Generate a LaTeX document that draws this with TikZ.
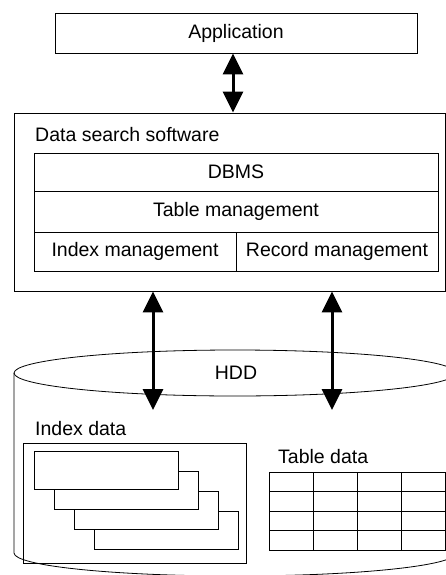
\documentclass[tikz,border=0pt]{standalone}
\usepackage{fontspec}
\setmainfont{Liberation Sans}
\usetikzlibrary{arrows.meta,calc}
\begin{document}
\begin{tikzpicture}[x=1pt,y=-1pt,
  every node/.style={font=\fontsize{19.5}{23}\selectfont, inner sep=0pt},
  box/.style={draw, line width=0.8pt, rectangle},
  thin/.style={line width=0.8pt},
  dbl/.style={line width=3pt, {Triangle[width=20pt,length=21pt]}-{Triangle[width=20pt,length=21pt]}},
  card/.style={draw, line width=0.8pt, fill=white, minimum width=144pt, minimum height=38pt},
  ]
\useasboundingbox (0,0) rectangle (446,575);
\clip (0,0) rectangle (446,575);
% application
\node[box, minimum width=362pt, minimum height=40pt] (app) at (236,33) {Application};
% data search software
\node[box, minimum width=431pt, minimum height=178pt] (sw) at (229.5,202) {};
\node[anchor=west] (swl) at (35,135) {Data search software};
\node[box, minimum width=404pt, minimum height=38pt] (dbms) at (236,172) {DBMS};
\node[box, minimum width=404pt, minimum height=41pt] (tm) at (236,211.5) {Table management};
\node[box, minimum width=202pt, minimum height=39pt] (im) at (135,251.5) {Index management};
\node[box, minimum width=202pt, minimum height=39pt] (rm) at (337,251.5) {Record management};
% HDD cylinder
\draw[thin] (14,373) -- (14,553) arc[start angle=180, end angle=0, x radius=221, y radius=23];
\draw[thin] (235,373) ellipse [x radius=221, y radius=23];
\node (hdd) at (236,373) {HDD};
% arrows
\coordinate (x1) at (233,0);
\draw[dbl] (app.south -| x1) -- (sw.north -| x1);
\coordinate (e1) at (153,410);
\coordinate (e2) at (332,410);
\draw[dbl] (sw.south -| e1) -- (e1);
\draw[dbl] (sw.south -| e2) -- (e2);
% index data
\node[anchor=west] (idl) at (35,429) {Index data};
\node[box, minimum width=223pt, minimum height=120pt] (ib) at (134.5,503) {};
\node[card] (c4) at (166,530) {};
\node[card] (c3) at (146,510) {};
\node[card] (c2) at (126,490) {};
\node[card] (c1) at (106,470) {};
% table data
\node[anchor=west] (tdl) at (278,457) {Table data};
\node[box, minimum width=176pt, minimum height=78pt] (tbl) at (357,511) {};
\foreach \i in {1,2,3} \draw[thin] ({269+44*\i},472) -- ({269+44*\i},550);
\foreach \j in {1,2,3} \draw[thin] (269,{472+19.5*\j}) -- (445,{472+19.5*\j});
\end{tikzpicture}
\end{document}
